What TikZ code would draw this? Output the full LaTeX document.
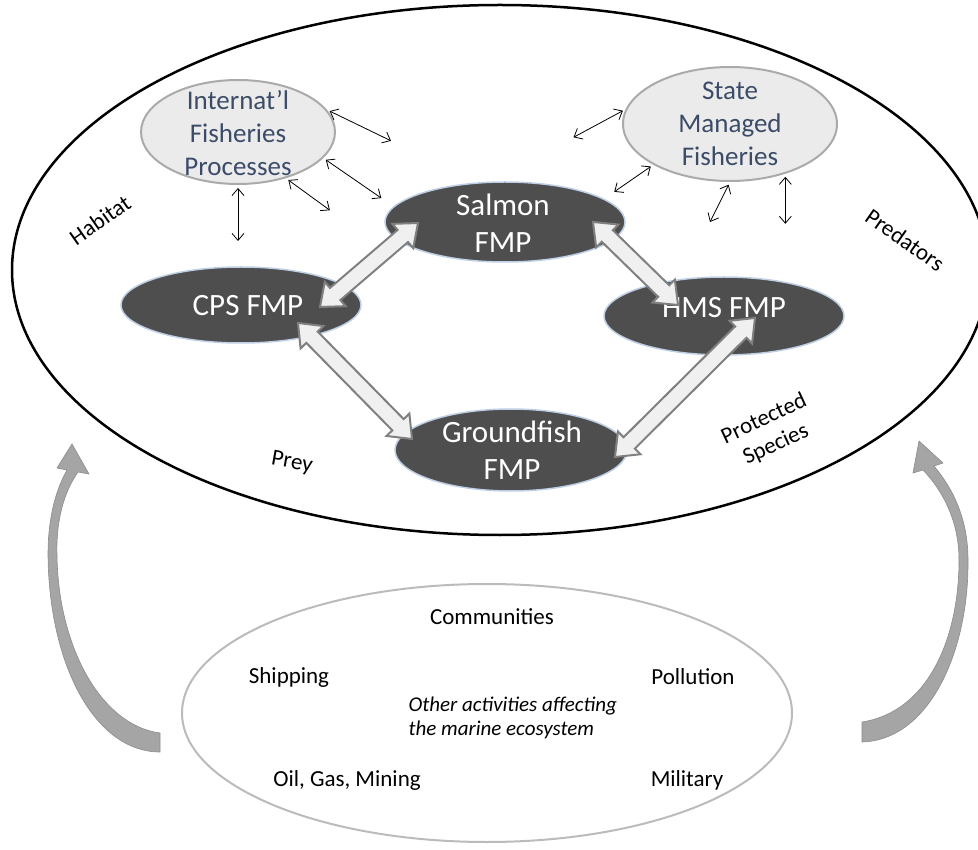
\documentclass[tikz,border=0pt]{standalone}
\usepackage{fontspec}
\setmainfont{Carlito}
\usepackage{tikz}
\usetikzlibrary{positioning, arrows.meta, shapes.geometric, calc}
\usepackage{xcolor}
\definecolor{fmpgray}{RGB}{78,78,78}
\definecolor{fmpedge}{RGB}{190,206,228}
\definecolor{procfill}{RGB}{235,235,235}
\definecolor{procedge}{RGB}{170,170,170}
\definecolor{slate}{RGB}{60,76,104}
\definecolor{arrfill}{RGB}{240,240,240}
\definecolor{arredge}{RGB}{128,128,128}
\definecolor{loopgray}{RGB}{165,165,165}

\begin{document}
\begin{tikzpicture}[x=1pt, y=-1pt,
    fmp/.style={ellipse, fill=fmpgray, draw=fmpedge, line width=1.5pt, inner sep=0pt},
    fmptext/.style={text=white, align=center, font=\fontsize{31}{37}\selectfont},
    process/.style={ellipse, fill=procfill, draw=procedge, line width=2pt, inner sep=0pt},
    proctext/.style={text=slate, align=center, font=\fontsize{27}{33}\selectfont},
    sidelabel/.style={font=\fontsize{23}{28}\selectfont, align=center},
    activity/.style={font=\fontsize{23}{28}\selectfont},
    pairlink/.style={{Straight Barb[length=7pt,width=12pt]}-{Straight Barb[length=7pt,width=12pt]}, line width=0.8pt, shorten <=3pt},
    bigarrow/.style={fill=arrfill, draw=arredge, line width=2pt, line join=miter},
    feedback/.style={fill=loopgray, draw=loopgray!85!black, line width=0.6pt}]

    \useasboundingbox (0,0) rectangle (978,850);

    % Ecosystem boundary
    \node[ellipse, draw, line width=2.5pt, minimum width=976pt, minimum height=530pt] (eco) at (500,270) {};

    % Other fishery processes
    \node[process, minimum width=194pt, minimum height=104pt] (intl) at (238,132) {};
    \node[proctext] (intltxt) at (238,133) {Internat’l\\Fisheries\\Processes};
    \node[process, minimum width=214pt, minimum height=114pt] (state) at (730,124) {};
    \node[proctext] (statetxt) at (730,124) {State\\Managed\\Fisheries};

    % Small two-way links
    \draw[pairlink] (intl.14) -- ++(64,31);
    \draw[pairlink] (intl.-17) -- ++(58,40);
    \draw[pairlink] (intl.-44) -- ++(44,32);
    \draw[pairlink] (intl.south) -- ++(0,56);
    \draw[pairlink] (state.172) -- ++(-52,28);
    \draw[pairlink] (state.208) -- ++(-39,27);
    \draw[pairlink] (state.south) -- ++(-20,40);
    \draw[pairlink] (state.-42) -- ++(0,50);

    % The four FMPs
    \node[fmp, minimum width=240pt, minimum height=80pt] (salmon) at (505,222) {};
    \node[fmptext] (salmontxt) at (503,223) {Salmon\\FMP};
    \node[fmp, minimum width=240pt, minimum height=76pt] (cps) at (241,305) {};
    \node[fmptext] (cpstxt) at (248,306) {CPS FMP};
    \node[fmp, minimum width=240pt, minimum height=78pt] (hms) at (724,316) {};
    \node[fmptext] (hmstxt) at (724,308) {HMS FMP};
    \node[fmp, minimum width=232pt, minimum height=82pt] (ground) at (511,450) {};
    \node[fmptext] (groundtxt) at (512,450) {Groundfish\\FMP};

    % Block arrows between the FMPs
    \coordinate (salmonA) at (418,223);
    \coordinate (cpsA) at (320,307);
    \coordinate (salmonB) at (593,222);
    \coordinate (hmsA) at (678,305);
    \coordinate (cpsB) at (298,323);
    \coordinate (groundA) at (412,439);
    \coordinate (hmsB) at (755,318);
    \coordinate (groundB) at (615,457);
    \foreach \a/\b in {salmonA/cpsA, salmonB/hmsA, cpsB/groundA, hmsB/groundB} {
        \coordinate (ha) at ($(\a)!20pt!(\b)$);
        \coordinate (hb) at ($(\b)!20pt!(\a)$);
        \draw[bigarrow] (\a) -- ($(ha)!16pt!90:(\b)$) -- ($(ha)!8pt!90:(\b)$)
            -- ($(hb)!8pt!-90:(\a)$) -- ($(hb)!16pt!-90:(\a)$) -- (\b)
            -- ($(hb)!16pt!90:(\a)$) -- ($(hb)!8pt!90:(\a)$)
            -- ($(ha)!8pt!-90:(\b)$) -- ($(ha)!16pt!-90:(\b)$) -- cycle;
    }

    % Ecosystem labels
    \node[sidelabel, rotate=35] (habitat) at (100,220) {Habitat};
    \node[sidelabel, rotate=-35] (predators) at (905,240) {Predators};
    \node[sidelabel, rotate=-10] (prey) at (292,463) {Prey};
    \node[sidelabel, rotate=25] (protected) at (770,432) {Protected\\Species};

    % Other activities
    \node[ellipse, draw=procedge!80, line width=2pt, minimum width=610pt, minimum height=258pt] (other) at (487,713) {};
    \node[activity] (communities) at (492,617) {Communities};
    \node[activity] (shipping) at (289,677) {Shipping};
    \node[activity] (pollution) at (693,677) {Pollution};
    \node[activity, anchor=west, align=left, font=\fontsize{21}{24}\selectfont\itshape] (otheract) at (405,718) {Other activities affecting\\the marine ecosystem};
    \node[activity] (oil) at (347,780) {Oil, Gas, Mining};
    \node[activity] (military) at (687,780) {Military};

    % Feedback arrows
    \draw[feedback] (160,733) .. controls (100,725) and (58,645) .. (57,555)
        .. controls (56,520) and (64,492) .. (78,472) -- (89,474) -- (72,444) -- (57,468) -- (67,470)
        .. controls (53,495) and (48,525) .. (48,555) .. controls (49,665) and (95,752) .. (160,752) -- cycle;
    \draw[feedback] (862,722) .. controls (927,712) and (959,640) .. (959,560)
        .. controls (959,520) and (942,490) .. (923,470) -- (913,473) -- (919,441) -- (943,463) -- (934,466)
        .. controls (954,490) and (968,520) .. (968,560) .. controls (969,650) and (930,740) .. (862,742) -- cycle;
\end{tikzpicture}
\end{document}
